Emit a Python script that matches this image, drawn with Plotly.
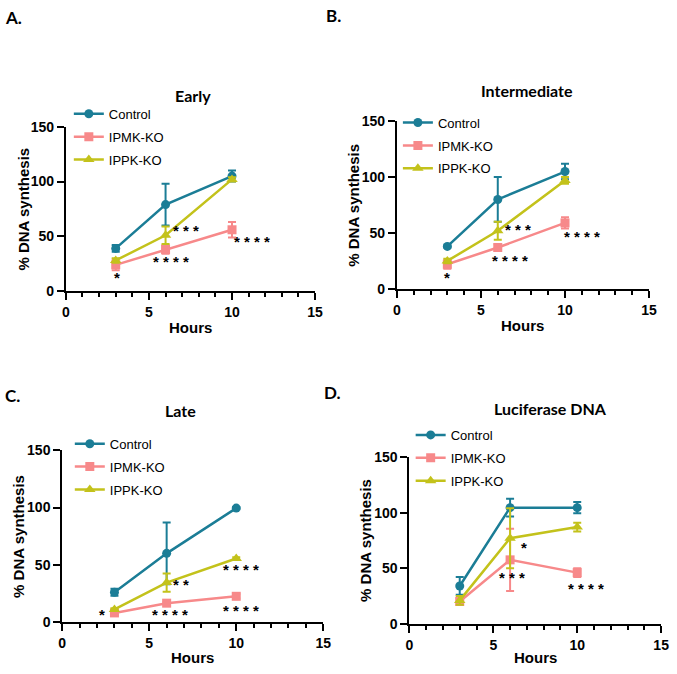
import plotly.graph_objects as go

hours = [3, 6, 10]
series_names = ["Control", "IPMK-KO", "IPPK-KO"]

# Panel A - Early
early_control = [39, 79, 105]
early_control_err = [3, 19, 5]
early_ipmk = [24, 38, 56]
early_ipmk_err = [5, 4, 7]
early_ippk = [28, 51, 102]
early_ippk_err = [2, 8, 2]

# Panel B - Intermediate
inter_control = [38, 80, 105]
inter_control_err = [1, 20, 7]
inter_ipmk = [22, 37, 59]
inter_ipmk_err = [4, 3, 5]
inter_ippk = [25, 52, 97]
inter_ippk_err = [2, 8, 3]

# Panel C - Late
late_control = [26, 60, 99.5]
late_control_err = [3, 27, 1]
late_ipmk = [8, 16.5, 22.5]
late_ipmk_err = [2, 1, 2]
late_ippk = [11, 34.5, 55.5]
late_ippk_err = [1, 8, 1]

# Panel D - Luciferase DNA
luc_control = [34, 104.5, 104.5]
luc_control_err = [8, 8, 5]
luc_ipmk = [20, 57.5, 46]
luc_ipmk_err = [3, 28, 4]
luc_ippk = [21, 77, 87]
luc_ippk_err = [4, 27, 4]

panel_titles = ["Early", "Intermediate", "Late", "Luciferase DNA"]
panel_letters = ["A.", "B.", "C.", "D."]

# significance labels: (x, y, text)
sig_A = [(3.05, 12, "*"), (6.35, 27, "* * * *"), (7.25, 55, "* * *"), (11.2, 45, "* * * *")]
sig_B = [(3.0, 10, "*"), (6.75, 25, "* * * *"), (7.2, 53, "* * *"), (11.0, 46.5, "* * * *")]
sig_C = [(2.3, 6.5, "*"), (6.2, 6.5, "* * * *"), (6.85, 32.5, "* *"), (10.3, 46, "* * * *"), (10.3, 10.5, "* * * *")]
sig_D = [(6.85, 68.5, "*"), (6.1, 41.5, "* * *"), (10.5, 31.5, "* * * *")]

colors = ["#1b7d96", "#f7898a", "#c3c21b"]
symbols = ["circle", "square", "triangle-up"]
msizes = [9, 9, 10]

W, H = 677, 674

def px_x(v):
    return v / W

def px_y(v):
    return 1 - v / H

panels = [
    dict(data=[(early_control, early_control_err), (early_ipmk, early_ipmk_err), (early_ippk, early_ippk_err)],
         xdom=(63, 316.7), ydom=(290, 121.7), legend_xy=(66, 93), sig=sig_A,
         title_xy=(192, 90), letter_xy=(0, 10), ytitle_x=20, xtitle_y=327),
    dict(data=[(inter_control, inter_control_err), (inter_ipmk, inter_ipmk_err), (inter_ippk, inter_ippk_err)],
         xdom=(400, 656.7), ydom=(287.7, 116), legend_xy=(401, 102), sig=sig_B,
         title_xy=(532, 85), letter_xy=(327, 8), ytitle_x=355, xtitle_y=325),
    dict(data=[(late_control, late_control_err), (late_ipmk, late_ipmk_err), (late_ippk, late_ippk_err)],
         xdom=(59.3, 325), ydom=(629, 453), legend_xy=(67, 431), sig=sig_C,
         title_xy=(180, 412), letter_xy=(0, 397), ytitle_x=14, xtitle_y=665),
    dict(data=[(luc_control, luc_control_err), (luc_ipmk, luc_ipmk_err), (luc_ippk, luc_ippk_err)],
         xdom=(412.7, 669), ydom=(630.7, 460), legend_xy=(414, 422), sig=sig_D,
         title_xy=(556.7, 410), letter_xy=(325, 394), ytitle_x=368, xtitle_y=665),
]

fig = go.Figure()
layout = dict(
    width=W, height=H,
    margin=dict(l=0, r=0, t=0, b=0),
    paper_bgcolor="white", plot_bgcolor="white",
    showlegend=True,
    annotations=[],
)

tick_font = dict(family="Liberation Sans", size=14, color="black", weight="bold")

for i, p in enumerate(panels):
    n = "" if i == 0 else str(i + 1)
    xa = "x" + n
    ya = "y" + n
    leg = "legend" + n
    for j, (vals, errs) in enumerate(p["data"]):
        fig.add_trace(go.Scatter(
            x=hours, y=vals, name=series_names[j], mode="lines+markers",
            xaxis=xa, yaxis=ya, legend=leg, legendgroup=f"{i}_{j}",
            line=dict(color=colors[j], width=2.5),
            marker=dict(color=colors[j], symbol=symbols[j], size=msizes[j]),
            error_y=dict(type="data", array=errs, visible=True, color=colors[j], thickness=2, width=4),
            cliponaxis=False,
        ))
    layout["xaxis" + n] = dict(
        domain=[px_x(p["xdom"][0]), px_x(p["xdom"][1])],
        anchor=ya, range=[0, 15], tickvals=[0, 5, 10, 15],
        showgrid=False, zeroline=False, showline=True, linecolor="black", linewidth=2,
        ticks="outside", ticklen=7, tickwidth=2, tickcolor="black",
        minor=dict(dtick=1, ticks="outside", ticklen=4, tickwidth=1.5, tickcolor="black", showgrid=False),
        tickfont=tick_font, ticklabeloverflow="allow",
    )
    layout["yaxis" + n] = dict(
        domain=[px_y(p["ydom"][0]), px_y(p["ydom"][1])],
        anchor=xa, range=[0, 150], tickvals=[0, 50, 100, 150],
        showgrid=False, zeroline=False, showline=True, linecolor="black", linewidth=2,
        ticks="outside", ticklen=7, tickwidth=2, tickcolor="black",
        tickfont=tick_font,
    )
    lx, ly = p["legend_xy"]
    layout[leg] = dict(
        x=px_x(lx), y=px_y(ly), xanchor="left", yanchor="top",
        bgcolor="rgba(0,0,0,0)", borderwidth=0,
        font=dict(family="Liberation Sans", size=13, color="black"),
        tracegroupgap=3, itemwidth=30,
    )
    tx, ty = p["title_xy"]
    layout["annotations"].append(dict(
        text=panel_titles[i], x=px_x(tx), y=px_y(ty), xref="paper", yref="paper",
        xanchor="center", yanchor="middle", showarrow=False,
        font=dict(family="Lato", size=16, color="black", weight="bold")))
    lx2, ly2 = p["letter_xy"]
    layout["annotations"].append(dict(
        text=panel_letters[i], x=px_x(lx2), y=px_y(ly2), xref="paper", yref="paper",
        xanchor="left", yanchor="middle", showarrow=False, borderpad=0,
        font=dict(family="Lato", size=17, color="black", weight="bold")))
    cx = (p["xdom"][0] + p["xdom"][1]) / 2
    layout["annotations"].append(dict(
        text="Hours", x=px_x(cx), y=px_y(p["xtitle_y"]), xref="paper", yref="paper",
        xanchor="center", yanchor="middle", showarrow=False,
        font=dict(family="Liberation Sans", size=15, color="black", weight="bold")))
    cy = (p["ydom"][0] + p["ydom"][1]) / 2
    layout["annotations"].append(dict(
        text="% DNA synthesis", x=px_x(p["ytitle_x"]), y=px_y(cy), xref="paper", yref="paper",
        xanchor="center", yanchor="middle", showarrow=False, textangle=-90,
        font=dict(family="Liberation Sans", size=15, color="black", weight="bold")))
    for (sx, sy, st) in p["sig"]:
        layout["annotations"].append(dict(
            text=st, x=sx, y=sy, xref=xa, yref=ya, xanchor="center", yanchor="middle",
            showarrow=False, font=dict(family="Liberation Sans", size=15, color="black", weight="bold")))

fig.update_layout(**layout)
fig.write_html("out.html", config={"displayModeBar": False},
               post_script="document.body.style.margin='0';document.body.style.overflow='hidden';")
